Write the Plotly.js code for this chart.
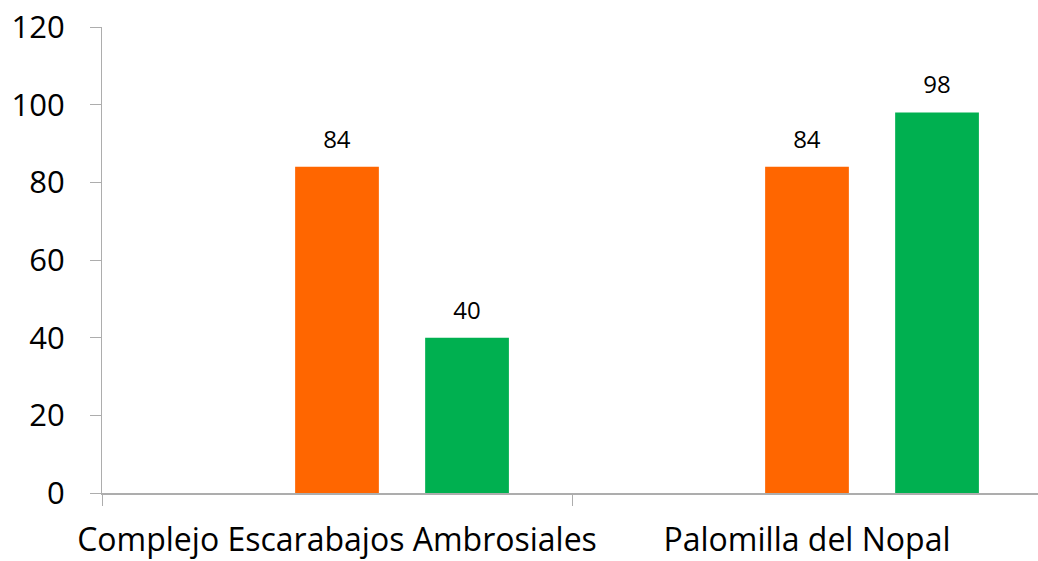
<!DOCTYPE html>
<html>
<head>
<meta charset="utf-8">
<script src="https://cdn.plot.ly/plotly-3.0.1.min.js"></script>
<style>html,body{margin:0;padding:0;background:#fff;overflow:hidden}</style>
</head>
<body>
<div id="chart" style="width:1038px;height:561px"></div>
<script>
const categories = ['Complejo Escarabajos Ambrosiales', 'Palomilla del Nopal'];
const serieVacia = [null, null];
const serieNaranja = [84, 84];
const serieVerde = [40, 98];
const yTicks = [0, 20, 40, 60, 80, 100, 120];

const FONT = 'Open Sans, Noto Sans, sans-serif';
const axisColor = '#adadad';

function barTrace(values, color) {
  return {
    type: 'bar',
    x: categories,
    y: values,
    marker: {color: color, line: {width: 0}},
    // small trailing blank line lifts the label above the bar like the reference
    text: values.map(v => v === null ? '' : '<span style="font-size:24px">' + v + '</span><br>\u00a0'),
    textposition: 'outside',
    textfont: {family: FONT, size: 10, color: '#000'},
    constraintext: 'none',
    cliponaxis: false,
    hoverinfo: 'none',
    showlegend: false
  };
}

const data = [
  barTrace(serieVacia, '#4472C4'),
  barTrace(serieNaranja, '#FF6600'),
  barTrace(serieVerde, '#00B050')
];

const layout = {
  width: 1038,
  height: 561,
  margin: {l: 102, r: 0, t: 27, b: 68},
  paper_bgcolor: '#fff',
  plot_bgcolor: '#fff',
  barmode: 'group',
  bargap: 0.17,
  bargroupgap: 0.356,
  showlegend: false,
  xaxis: {
    type: 'category',
    range: [-0.5, 1.4915],
    showgrid: false,
    zeroline: false,
    showline: true,
    linecolor: axisColor,
    linewidth: 2,
    ticks: 'outside',
    tickson: 'boundaries',
    ticklen: 11,
    tickcolor: axisColor,
    tickwidth: 1,
    tickangle: 0,
    tickfont: {family: FONT, size: 32, color: '#000'},
    ticklabelstandoff: 18
  },
  yaxis: {
    range: [0, 120],
    tickvals: yTicks,
    ticktext: yTicks.map(String),
    showgrid: false,
    zeroline: false,
    showline: true,
    linecolor: axisColor,
    linewidth: 1,
    ticks: 'outside',
    ticklen: 11,
    tickcolor: axisColor,
    tickwidth: 1,
    tickfont: {family: FONT, size: 31, color: '#000'},
    ticklabelstandoff: 19
  }
};

Plotly.newPlot('chart', data, layout, {displayModeBar: false, staticPlot: true});
</script>
</body>
</html>
